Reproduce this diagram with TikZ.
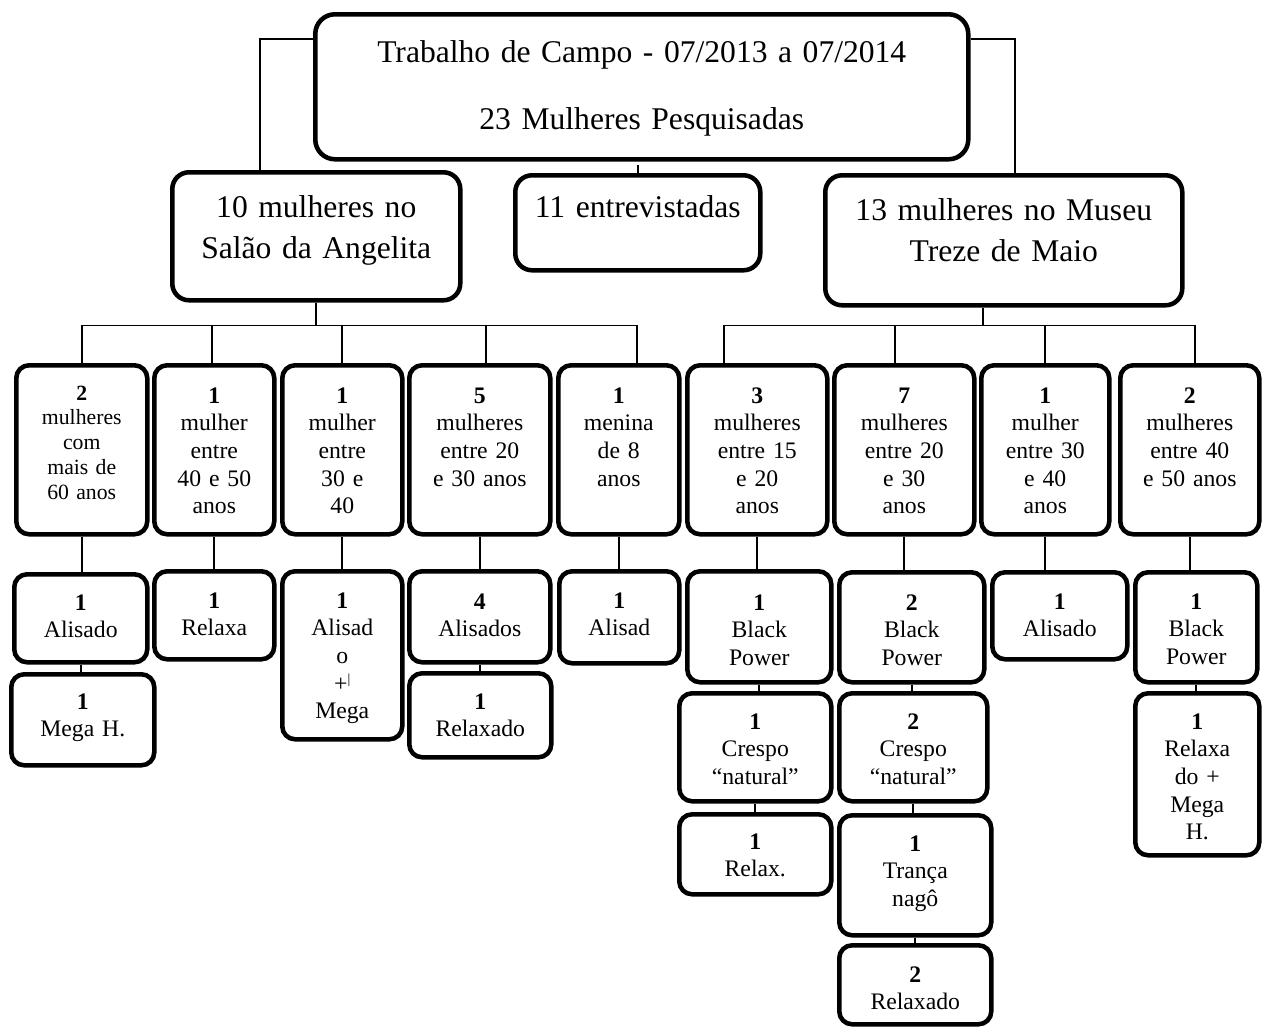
\documentclass[tikz,border=0pt]{standalone}
\usepackage{fontspec}
\setmainfont{Liberation Serif}
\usetikzlibrary{calc}
\newdimen\px \px=0.5063pt

\tikzset{
  caixa/.style={draw, line width=2.3pt, rounded corners=6.5pt, anchor=north west, align=center, inner sep=0pt, font=\fontsize{12}{14}\selectfont},
  grande/.style={caixa, rounded corners=8.5pt, font=\fontsize{16}{21}\selectfont},
  tam/.style n args={3}{text width=#1\px, text height=#2\px, text depth=#3\px},
  liga/.style={line width=0.8pt},
}

\begin{document}
\begin{tikzpicture}[x=0.5063pt, y=-0.5063pt]
\useasboundingbox (0,0) rectangle (1263,1026);

% topo e locais
\node[grande, rounded corners=10pt, tam={653}{48}{97}] (topo) at (313,12) {Trabalho de Campo - 07/2013 a 07/2014\\[13pt]23 Mulheres Pesquisadas};
\node[grande, tam={288}{45}{83}] (salao) at (170,170) {10 mulheres no\\Salão da Angelita};
\node[grande, tam={245}{42}{53}] (entrev) at (513,173) {11 entrevistadas};
\node[grande, tam={357}{45}{85}] (museu) at (823,173) {13 mulheres no Museu\\Treze de Maio};

% idades
\node[caixa, tam={131}{35}{134}, font=\fontsize{11}{12.5}\selectfont] (s1) at (14,363) {\textbf{2}\\mulheres\\com\\mais de\\60 anos};
\node[caixa, tam={120}{38}{131}] (s2) at (152,363) {\textbf{1}\\mulher\\entre\\40 e 50\\anos};
\node[caixa, tam={120}{38}{131}] (s3) at (280,363) {\textbf{1}\\mulher\\entre\\30 e\\40};
\node[caixa, tam={141}{38}{131}] (s4) at (407,363) {\textbf{5}\\mulheres\\entre 20\\e 30 anos};
\node[caixa, tam={121}{38}{131}] (s5) at (556,363) {\textbf{1}\\menina\\de 8\\anos};
\node[caixa, tam={140}{38}{131}] (m1) at (685,363) {\textbf{3}\\mulheres\\entre 15\\e 20\\anos};
\node[caixa, tam={140}{38}{131}] (m2) at (832,363) {\textbf{7}\\mulheres\\entre 20\\e 30\\anos};
\node[caixa, tam={128}{38}{131}] (m3) at (979,363) {\textbf{1}\\mulher\\entre 30\\e 40\\anos};
\node[caixa, tam={139}{38}{131}] (m4) at (1118,363) {\textbf{2}\\mulheres\\entre 40\\e 50 anos};

% cabelos
\node[caixa, tam={133}{36}{52}] (s1a) at (12,572) {\textbf{1}\\Alisado};
\node[caixa, tam={143}{35}{56}] (s1b) at (9,672) {\textbf{1}\\Mega H.};
\node[caixa, tam={120}{37}{51}] (s2a) at (152,569) {\textbf{1}\\Relaxa};
\node[caixa, tam={120}{37}{131}] (s3a) at (280,569) {\textbf{1}\\Alisad\\o\\+\raisebox{4pt}{\fontsize{7}{7}\selectfont|}\\Mega};
\node[caixa, tam={141}{38}{53}] (s4a) at (407,569) {\textbf{4}\\Alisados};
\node[caixa, tam={142}{36}{48}] (s4b) at (407,671) {\textbf{1}\\Relaxado};
\node[caixa, tam={120}{37}{55}] (s5a) at (557,569) {\textbf{1}\\Alisad};
\node[caixa, tam={144}{39}{72}] (m1a) at (685,569) {\textbf{1}\\Black\\Power};
\node[caixa, tam={152}{36}{72}] (m1b) at (677,691) {\textbf{1}\\Crespo\\“natural”};
\node[caixa, tam={152}{35}{45}] (m1c) at (677,812) {\textbf{1}\\Relax.};
\node[caixa, tam={145}{38}{72}] (m2a) at (837,570) {\textbf{2}\\Black\\Power};
\node[caixa, tam={148}{36}{72}] (m2b) at (837,691) {\textbf{2}\\Crespo\\“natural”};
\node[caixa, tam={152}{36}{84}] (m2c) at (837,813) {\textbf{1}\\Trança\\nagô};
\node[caixa, tam={152}{37}{42}] (m2d) at (837,943) {\textbf{2}\\Relaxado};
\node[caixa, tam={135}{37}{50}] (m3a) at (990,570) {\textbf{1}\\Alisado};
\node[caixa, tam={122}{37}{73}] (m4a) at (1133,570) {\textbf{1}\\Black\\Power};
\node[caixa, tam={124}{36}{126}] (m4b) at (1133,691) {\textbf{1}\\Relaxa\\do +\\Mega\\H.};

% ligacoes
\draw[liga] ($(topo.west)+(0,-48)$) -| ($(salao.north)+(-56,0)$);
\draw[liga] ($(topo.east)+(0,-48)$) -| ($(museu.north)+(11,0)$);
\draw[liga] (entrev.north) -- +(0,-8);
\draw[liga] (salao.south) -- +(0,23) coordinate (bs);
\foreach \n/\d in {s1/0,s2/-2,s3/0,s4/6,s5/18}
  \draw[liga] (bs) -| ($(\n.north)+(\d,0)$);
\draw[liga] ($(museu.south)+(-21,0)$) -- +(0,18) coordinate (bm);
\foreach \n/\d in {m1/-33,m2/-9,m3/0,m4/5}
  \draw[liga] (bm) -| ($(\n.north)+(\d,0)$);
\foreach \a/\b in {s1/s1a,s2/s2a,s3/s3a,s4/s4a,s5/s5a,m1/m1a,m2/m2a,m3/m3a,m4/m4a,
                   s1a/s1b,s4a/s4b,m1a/m1b,m1b/m1c,m2a/m2b,m2b/m2c,m2c/m2d,m4a/m4b}
  \draw[liga] (\a.south) -- (\a.south |- \b.north);
\end{tikzpicture}
\end{document}
